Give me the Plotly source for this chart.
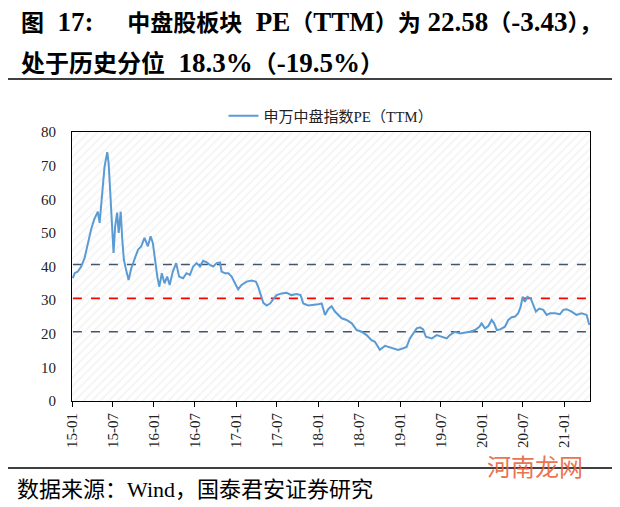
import plotly.graph_objects as go

dates = [
    "2015-01-05","2015-01-13","2015-01-27","2015-02-11","2015-02-26","2015-03-13","2015-03-27","2015-04-10",
    "2015-04-26","2015-05-04","2015-05-11","2015-05-19","2015-05-26","2015-06-07","2015-06-13","2015-06-19",
    "2015-06-25","2015-07-01","2015-07-05","2015-07-12","2015-07-21","2015-07-28","2015-08-06","2015-08-13",
    "2015-08-20","2015-08-30","2015-09-10","2015-09-22","2015-10-07","2015-10-22","2015-11-05","2015-11-20",
    "2015-12-05","2015-12-17","2015-12-27","2016-01-07","2016-01-16","2016-01-25","2016-02-05","2016-02-17",
    "2016-02-29","2016-03-11","2016-03-25","2016-04-09","2016-04-22","2016-05-10","2016-05-25","2016-06-09",
    "2016-06-24","2016-07-09","2016-07-24","2016-08-07","2016-08-23","2016-09-06","2016-09-21","2016-10-06",
    "2016-10-21","2016-10-28","2016-11-12","2016-11-27","2016-12-12","2016-12-27","2017-01-10","2017-01-25",
    "2017-02-17","2017-03-11","2017-03-30","2017-04-09","2017-04-20","2017-05-02","2017-05-17","2017-06-01",
    "2017-06-15","2017-06-30","2017-07-23","2017-08-14","2017-09-05","2017-09-27","2017-10-15","2017-10-27",
    "2017-11-18","2017-12-10","2018-01-02","2018-01-17","2018-02-01","2018-02-15","2018-03-02","2018-03-17",
    "2018-04-01","2018-04-16","2018-05-08","2018-05-31","2018-06-22","2018-07-14","2018-08-05","2018-08-27",
    "2018-09-11","2018-10-03","2018-10-26","2018-11-17","2018-12-09","2018-12-24","2019-01-15","2019-01-30",
    "2019-02-14","2019-03-01","2019-03-16","2019-03-31","2019-04-14","2019-04-26","2019-05-22","2019-06-13",
    "2019-07-05","2019-07-28","2019-08-11","2019-09-03","2019-09-25","2019-10-17","2019-11-08","2019-12-01",
    "2019-12-20","2019-12-30","2020-01-14","2020-01-29","2020-02-13","2020-02-24","2020-03-07","2020-03-22",
    "2020-04-12","2020-04-27","2020-05-12","2020-05-27","2020-06-10","2020-06-21","2020-06-30","2020-07-10",
    "2020-07-21","2020-08-05","2020-08-16","2020-08-28","2020-09-12","2020-09-30","2020-10-15","2020-10-30",
    "2020-11-21","2020-12-13","2020-12-28","2021-01-12","2021-02-03","2021-02-25","2021-03-20","2021-04-11",
    "2021-04-23",
]
pe_ttm = [
    36.5, 38.0, 38.5, 40.0, 42.5, 47.0, 51.0, 54.0,
    56.3, 53.0, 59.0, 65.0, 69.7, 74.0, 70.8, 63.7,
    56.0, 49.0, 44.0, 51.8, 56.0, 50.0, 56.3, 47.9,
    42.0, 39.0, 36.0, 39.5, 42.0, 45.0, 46.0, 48.5,
    46.0, 49.0, 47.0, 41.0, 37.0, 34.0, 38.0, 35.0,
    37.0, 34.5, 38.5, 41.0, 37.0, 36.5, 38.0, 37.5,
    40.0, 41.0, 40.0, 41.7, 41.2, 40.5, 40.0, 41.0,
    41.2, 38.5, 38.0, 38.0, 37.0, 35.0, 33.2, 34.5,
    35.5, 35.8, 35.5, 34.0, 31.5, 29.2, 28.4, 29.0,
    30.2, 31.5, 32.0, 32.2, 31.5, 31.8, 31.5, 29.0,
    28.4, 28.5, 28.8, 29.0, 25.6, 27.3, 28.2, 26.6,
    25.6, 24.6, 24.1, 23.1, 21.1, 20.6, 19.6, 18.1,
    17.6, 15.2, 16.4, 16.0, 15.4, 15.2, 15.7, 16.1,
    18.6, 20.1, 21.6, 21.9, 21.3, 19.1, 18.6, 19.6,
    19.1, 18.6, 19.6, 20.6, 20.1, 20.3, 20.6, 21.1,
    22.1, 23.1, 21.6, 22.3, 24.1, 23.1, 21.1, 21.3,
    22.1, 24.1, 24.9, 25.1, 26.1, 28.0, 31.0, 29.5,
    31.0, 30.5, 28.5, 26.6, 27.5, 27.1, 25.6, 26.1,
    26.1, 25.8, 27.1, 27.3, 26.6, 25.6, 26.1, 25.6,
    22.6,
]
pe_mean = 30.5
pe_plus_std = 40.6
pe_minus_std = 20.6

tick_vals = ["2015-01-01","2015-07-01","2016-01-01","2016-07-01","2017-01-01","2017-07-01",
             "2018-01-01","2018-07-01","2019-01-01","2019-07-01","2020-01-01","2020-07-01","2021-01-01"]
tick_text = ["15-01","15-07","16-01","16-07","17-01","17-07","18-01","18-07","19-01","19-07","20-01","20-07","21-01"]

x_range = ["2015-01-01", "2021-04-26"]
y_range = [0, 80]

serif = "Liberation Serif, Noto Sans CJK SC"

fig = go.Figure()

# hatched plot background
fig.add_trace(go.Scatter(
    x=[x_range[0], x_range[1], x_range[1], x_range[0], x_range[0]],
    y=[y_range[0], y_range[0], y_range[1], y_range[1], y_range[0]],
    mode="lines", line=dict(width=0), fill="toself", fillcolor="white",
    fillpattern=dict(shape="/", fgcolor="#e6e6e6", bgcolor="white", size=6, solidity=0.25),
    showlegend=False, hoverinfo="skip",
))

for val, col in [(pe_plus_std, "#44546A"), (pe_mean, "#FF0000"), (pe_minus_std, "#44546A")]:
    fig.add_trace(go.Scatter(
        x=[dates[0], dates[-1]], y=[val, val], mode="lines",
        line=dict(color=col, width=1.7, dash="dash"),
        showlegend=False, hoverinfo="skip",
    ))

fig.add_trace(go.Scatter(
    x=dates, y=pe_ttm, mode="lines", name="申万中盘指数PE（TTM）",
    line=dict(color="#5B9BD5", width=2),
))

# page body has an 8px margin: figure is 8px smaller and everything is placed 8px earlier
W, H = 612, 499
fig.update_layout(
    width=W, height=H,
    margin=dict(l=64, r=30, t=124, b=106),
    paper_bgcolor="white", plot_bgcolor="white",
    showlegend=True,
    legend=dict(orientation="h", x=0.5, xanchor="center", y=(401 - 116) / 269, yanchor="middle",
                font=dict(family=serif, size=15, color="#222"), bgcolor="rgba(0,0,0,0)"),
    font=dict(family=serif, color="black"),
)

fig.update_xaxes(
    type="date", range=x_range, tickmode="array", tickvals=tick_vals, ticktext=tick_text,
    tickangle=-90, ticks="outside", ticklen=5, tickcolor="black", tickwidth=1,
    showline=True, linecolor="black", linewidth=1.2, mirror=True,
    showgrid=False, zeroline=False, automargin=False,
    tickfont=dict(family=serif, size=15, color="#222"),
)
fig.update_yaxes(
    range=y_range, dtick=10, tickmode="linear",
    showline=True, linecolor="black", linewidth=1.2, mirror=True,
    showgrid=False, zeroline=False, ticks="", automargin=False,
    ticklabelstandoff=12,
    tickfont=dict(family=serif, size=15, color="#222"),
)

def px_x(p):
    return (p - 72) / 518

def px_y(p):
    return (401 - p) / 269

def L(s, size):
    return f'<span style="font-size:{size}px">{s}</span>'

title1 = ("<b>图" + L("  17:" + "     ", 27) + "中盘股板块" + L("  PE", 27) + "（" + L("TTM", 27)
          + "）为" + L(" 22.58", 27) + "（" + L("-3.43", 27) + "），</b>")
title2 = "<b>处于历史分位" + L("  18.3%", 27) + "（" + L("-19.5%", 27) + "）</b>"

fig.add_annotation(text=title1,
                   xref="paper", yref="paper", x=px_x(19), y=px_y(22), xanchor="left", yanchor="middle",
                   showarrow=False, font=dict(family=serif, size=23, color="black"))
fig.add_annotation(text=title2,
                   xref="paper", yref="paper", x=px_x(19), y=px_y(63), xanchor="left", yanchor="middle",
                   showarrow=False, font=dict(family=serif, size=24, color="black"))
fig.add_annotation(text="数据来源：Wind，国泰君安证券研究",
                   xref="paper", yref="paper", x=px_x(15), y=px_y(489), xanchor="left", yanchor="middle",
                   showarrow=False, font=dict(family=serif, size=22, color="black"))
fig.add_annotation(text="河南龙网",
                   xref="paper", yref="paper", x=px_x(535), y=px_y(468), xanchor="center", yanchor="middle",
                   showarrow=False, font=dict(family=serif, size=24, color="rgba(232,98,58,0.9)"))

fig.add_shape(type="line", xref="paper", yref="paper", x0=px_x(0), x1=px_x(620), y0=px_y(79), y1=px_y(79),
              line=dict(color="black", width=1.5))
fig.add_shape(type="line", xref="paper", yref="paper", x0=px_x(0), x1=px_x(620), y0=px_y(468), y1=px_y(468),
              line=dict(color="black", width=1.5))

fig.write_html("out.html")
